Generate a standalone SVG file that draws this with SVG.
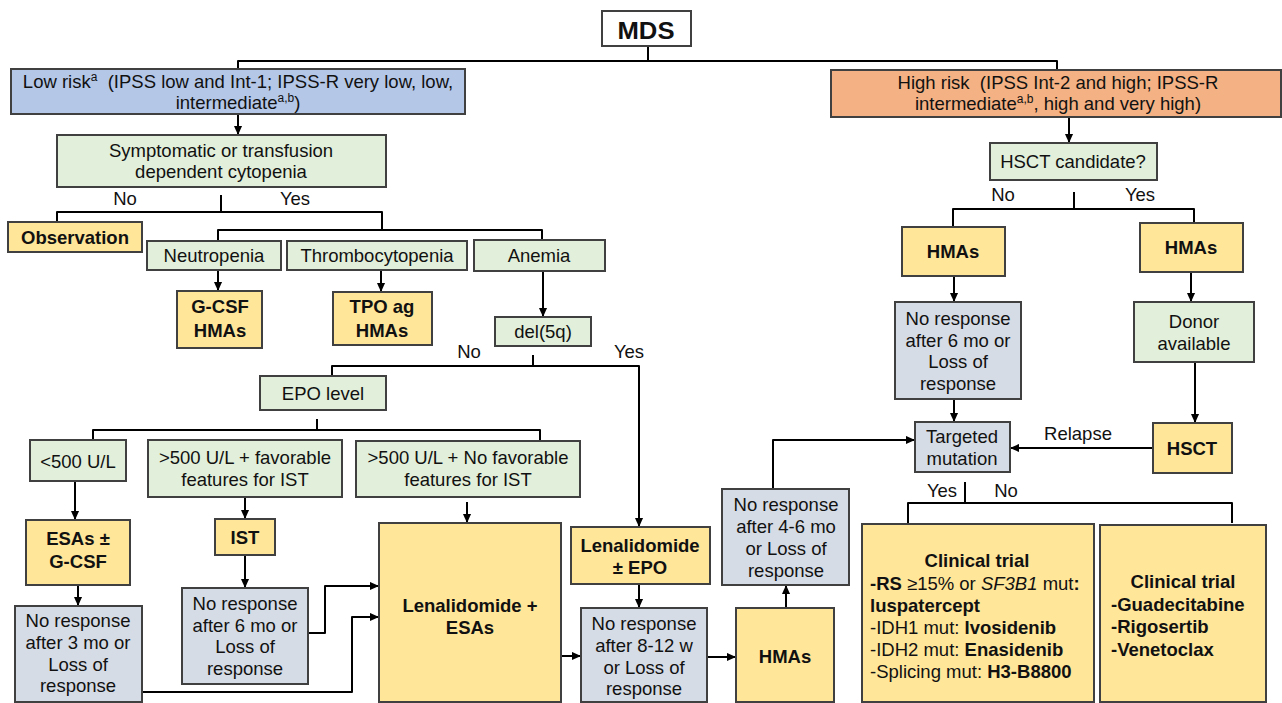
<svg xmlns="http://www.w3.org/2000/svg" width="1282" height="703" viewBox="0 0 1282 703">
<defs>
<marker id="ah" viewBox="0 0 10 10" refX="10" refY="5" markerWidth="9" markerHeight="9" markerUnits="userSpaceOnUse" orient="auto">
<path d="M0,0.5 L10,5 L0,9.5 z" fill="#000"/>
</marker>
<style>
text{font-family:"Liberation Sans",Arial,sans-serif;font-size:18.5px;fill:#111;}
.c{text-anchor:middle}
.b{font-weight:bold}
.n{stroke:#404040;stroke-width:2}
.w{fill:#fff}
.blue{fill:#B4C7E7}
.orange{fill:#F4B183}
.green{fill:#E2EFDA}
.yellow{fill:#FFE699}
.gray{fill:#D6DCE5}
.ln{fill:none;stroke:#000;stroke-width:2;stroke-linejoin:round}
.ar{marker-end:url(#ah)}
.sup{font-size:12px}
.big{font-size:23px}
</style>
</defs>
<rect x="0" y="0" width="1282" height="703" fill="#fff"/>

<g id="connectors">
<path class="ln" d="M648,46 V61"/>
<path class="ln" d="M238,69 V61 H1057 V70"/>
<path class="ln ar" d="M238,114 V135"/>
<path class="ln ar" d="M1069,117 V143"/>
<path class="ln" d="M221,195 V212"/>
<path class="ln" d="M57,222 V212 H382 V230"/>
<path class="ln" d="M218,241 V230 H542 V240"/>
<path class="ln ar" d="M218,270 V291"/>
<path class="ln ar" d="M381,270 V292"/>
<path class="ln ar" d="M543,271 V317"/>
<path class="ln" d="M533,355 V366"/>
<path class="ln ar" d="M332,376 V366 H639 V527"/>
<path class="ln" d="M317,419 V430"/>
<path class="ln" d="M93,440 V430 H540 V441"/>
<path class="ln ar" d="M75,481 V520"/>
<path class="ln ar" d="M245,497 V519"/>
<path class="ln ar" d="M467,502 V523"/>
<path class="ln ar" d="M78,585 V606"/>
<path class="ln ar" d="M245,555 V588"/>
<path class="ln ar" d="M142,692 H352 V617 H379"/>
<path class="ln ar" d="M308,633 H325 V586 H379"/>
<path class="ln ar" d="M561,656 H581"/>
<path class="ln ar" d="M639,584 V608"/>
<path class="ln ar" d="M707,657 H736"/>
<path class="ln ar" d="M786,608 V585"/>
<path class="ln ar" d="M773,489 V440 H915"/>
<path class="ln" d="M1074,192 V209"/>
<path class="ln" d="M953,227 V209 H1194 V223"/>
<path class="ln ar" d="M954,276 V302"/>
<path class="ln ar" d="M1191,272 V302"/>
<path class="ln ar" d="M954,399 V422"/>
<path class="ln ar" d="M1195,362 V423"/>
<path class="ln ar" d="M1153,448 H1010"/>
<path class="ln" d="M965,482 V503"/>
<path class="ln" d="M908,524 V503 H1232 V523"/>
</g>

<g id="labels">
<text class="c" x="125" y="205">No</text>
<text class="c" x="295" y="205">Yes</text>
<text class="c" x="469" y="358">No</text>
<text class="c" x="629" y="358">Yes</text>
<text class="c" x="1003" y="201">No</text>
<text class="c" x="1140" y="201">Yes</text>
<text class="c" x="1078" y="440">Relapse</text>
<text class="c" x="942" y="497">Yes</text>
<text class="c" x="1006" y="497">No</text>
</g>

<g id="mds">
<rect class="n w" x="602" y="11" width="89" height="35"/>
<text class="c b big" x="646" y="39" textLength="57" lengthAdjust="spacingAndGlyphs">MDS</text>
</g>

<g id="low-risk">
<rect class="n blue" x="11" y="69" width="454" height="45"/>
<text class="c" x="238" y="88">Low risk<tspan class="sup" dy="-7">a</tspan><tspan dy="7">&#160; (IPSS low and Int-1; IPSS-R very low, low,</tspan></text>
<text class="c" x="238" y="109">intermediate<tspan class="sup" dy="-7">a,b</tspan><tspan dy="7">)</tspan></text>
</g>

<g id="high-risk">
<rect class="n orange" x="831" y="70" width="450" height="47"/>
<text class="c" x="1058" y="89">High risk&#160; (IPSS Int-2 and high; IPSS-R</text>
<text class="c" x="1058" y="110">intermediate<tspan class="sup" dy="-7">a,b</tspan><tspan dy="7">, high and very high)</tspan></text>
</g>

<g id="symptomatic">
<rect class="n green" x="57" y="135" width="329" height="52"/>
<text class="c" x="221" y="157">Symptomatic or transfusion</text>
<text class="c" x="221" y="178">dependent cytopenia</text>
</g>

<g id="observation">
<rect class="n yellow" x="8" y="222" width="134" height="30"/>
<text class="c b" x="75" y="244">Observation</text>
</g>

<g id="neutropenia">
<rect class="n green" x="147" y="241" width="134" height="29"/>
<text class="c" x="214" y="262">Neutropenia</text>
</g>

<g id="thrombocytopenia">
<rect class="n green" x="287" y="241" width="180" height="29"/>
<text class="c" x="377" y="262">Thrombocytopenia</text>
</g>

<g id="anemia">
<rect class="n green" x="474" y="240" width="131" height="31"/>
<text class="c" x="539" y="262">Anemia</text>
</g>

<g id="gcsf">
<rect class="n yellow" x="177" y="291" width="85" height="57"/>
<text class="c b" x="220" y="313">G-CSF</text>
<text class="c b" x="220" y="337">HMAs</text>
</g>

<g id="tpo">
<rect class="n yellow" x="333" y="292" width="99" height="53"/>
<text class="c b" x="382" y="313">TPO ag</text>
<text class="c b" x="382" y="337">HMAs</text>
</g>

<g id="del5q">
<rect class="n green" x="495" y="317" width="96" height="29"/>
<text class="c" x="543" y="338">del(5q)</text>
</g>

<g id="epo">
<rect class="n green" x="260" y="376" width="126" height="34"/>
<text class="c" x="323" y="400">EPO level</text>
</g>

<g id="lt500">
<rect class="n green" x="30" y="440" width="96" height="41"/>
<text class="c" x="78" y="468">&lt;500 U/L</text>
</g>

<g id="gt500-fav">
<rect class="n green" x="148" y="440" width="194" height="57"/>
<text class="c" x="245" y="464">&gt;500 U/L + favorable</text>
<text class="c" x="245" y="486">features for IST</text>
</g>

<g id="gt500-nofav">
<rect class="n green" x="356" y="441" width="224" height="56"/>
<text class="c" x="468" y="464">&gt;500 U/L + No favorable</text>
<text class="c" x="468" y="486">features for IST</text>
</g>

<g id="esas">
<rect class="n yellow" x="26" y="520" width="104" height="65"/>
<text class="c b" x="78" y="545">ESAs ±</text>
<text class="c b" x="78" y="568">G-CSF</text>
</g>

<g id="ist">
<rect class="n yellow" x="215" y="519" width="60" height="36"/>
<text class="c b" x="245" y="544">IST</text>
</g>

<g id="len-esas">
<rect class="n yellow" x="379" y="523" width="182" height="179"/>
<text class="c b" x="470" y="612">Lenalidomide +</text>
<text class="c b" x="470" y="634">ESAs</text>
</g>

<g id="len-epo">
<rect class="n yellow" x="571" y="527" width="139" height="57"/>
<text class="c b" x="640" y="552">Lenalidomide</text>
<text class="c b" x="640" y="574">± EPO</text>
</g>

<g id="nr-3mo">
<rect class="n gray" x="15" y="606" width="127" height="96"/>
<text class="c" x="78" y="627">No response</text>
<text class="c" x="78" y="649">after 3 mo or</text>
<text class="c" x="78" y="671">Loss of</text>
<text class="c" x="78" y="692">response</text>
</g>

<g id="nr-6mo-ist">
<rect class="n gray" x="182" y="588" width="126" height="96"/>
<text class="c" x="245" y="610">No response</text>
<text class="c" x="245" y="632">after 6 mo or</text>
<text class="c" x="245" y="653">Loss of</text>
<text class="c" x="245" y="675">response</text>
</g>

<g id="nr-8-12w">
<rect class="n gray" x="581" y="608" width="126" height="94"/>
<text class="c" x="644" y="630">No response</text>
<text class="c" x="644" y="652">after 8-12 w</text>
<text class="c" x="644" y="674">or Loss of</text>
<text class="c" x="644" y="695">response</text>
</g>

<g id="hmas-mid">
<rect class="n yellow" x="736" y="608" width="98" height="94"/>
<text class="c b" x="785" y="663">HMAs</text>
</g>

<g id="nr-4-6mo">
<rect class="n gray" x="722" y="489" width="127" height="96"/>
<text class="c" x="786" y="511">No response</text>
<text class="c" x="786" y="533">after 4-6 mo</text>
<text class="c" x="786" y="555">or Loss of</text>
<text class="c" x="786" y="577">response</text>
</g>

<g id="hsct-candidate">
<rect class="n green" x="990" y="143" width="167" height="37"/>
<text class="c" x="1073" y="168">HSCT candidate?</text>
</g>

<g id="hmas-no">
<rect class="n yellow" x="902" y="227" width="103" height="49"/>
<text class="c b" x="953" y="258">HMAs</text>
</g>

<g id="hmas-yes">
<rect class="n yellow" x="1140" y="223" width="103" height="49"/>
<text class="c b" x="1191" y="254">HMAs</text>
</g>

<g id="nr-6mo">
<rect class="n gray" x="895" y="302" width="126" height="97"/>
<text class="c" x="958" y="325">No response</text>
<text class="c" x="958" y="347">after 6 mo or</text>
<text class="c" x="958" y="368">Loss of</text>
<text class="c" x="958" y="390">response</text>
</g>

<g id="donor">
<rect class="n green" x="1134" y="302" width="120" height="60"/>
<text class="c" x="1194" y="328">Donor</text>
<text class="c" x="1194" y="350">available</text>
</g>

<g id="hsct">
<rect class="n yellow" x="1153" y="423" width="79" height="50"/>
<text class="c b" x="1192" y="455">HSCT</text>
</g>

<g id="targeted">
<rect class="n gray" x="915" y="422" width="95" height="50"/>
<text class="c" x="962" y="443">Targeted</text>
<text class="c" x="962" y="465">mutation</text>
</g>

<g id="clinical-1">
<rect class="n yellow" x="862" y="524" width="232" height="178"/>
<text class="c b" x="977" y="567">Clinical trial</text>
<text x="870" y="590"><tspan class="b">-RS</tspan> ≥15% or <tspan font-style="italic">SF3B1</tspan> mut<tspan class="b">:</tspan></text>
<text class="b" x="870" y="612">luspatercept</text>
<text x="870" y="634">-IDH1 mut: <tspan class="b">Ivosidenib</tspan></text>
<text x="870" y="656">-IDH2 mut: <tspan class="b">Enasidenib</tspan></text>
<text x="870" y="678">-Splicing mut: <tspan class="b">H3-B8800</tspan></text>
</g>

<g id="clinical-2">
<rect class="n yellow" x="1100" y="525" width="166" height="177"/>
<text class="c b" x="1183" y="588">Clinical trial</text>
<text class="b" x="1111" y="611">-Guadecitabine</text>
<text class="b" x="1111" y="633">-Rigosertib</text>
<text class="b" x="1111" y="656">-Venetoclax</text>
</g>
</svg>
